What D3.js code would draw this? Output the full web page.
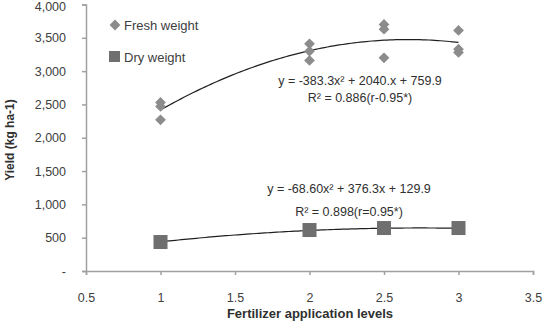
<!DOCTYPE html>
<html>
<head>
<meta charset="utf-8">
<script src="https://cdn.jsdelivr.net/npm/d3@7"></script>
<style>
body { margin: 0; background: #fff; }
text { font-family: "Liberation Sans", Arial, sans-serif; }
</style>
</head>
<body>
<svg></svg>
<script>
const width = 544;
const height = 327;
const svg = d3.select("svg").attr("width", width).attr("height", height);

// data
const levels = [1, 2, 2.5, 3];
const freshWeight = [
	[2530, 2470, 2270],
	[3410, 3300, 3160],
	[3700, 3630, 3200],
	[3610, 3330, 3280]
];
const dryWeight = [435, 615, 645, 645];
const freshCoef = [-383.3, 2040, 759.9];
const dryCoef = [-68.60, 376.3, 129.9];
const xTicks = [0.5, 1, 1.5, 2, 2.5, 3, 3.5];
const yTicks = [0, 500, 1000, 1500, 2000, 2500, 3000, 3500, 4000];

const x = d3.scaleLinear().domain([0.5, 3.5]).range([86, 533]);
const y = d3.scaleLinear().domain([0, 4000]).range([271, 4.5]);

const axisColor = "#a0a0a0";
const textColor = "#404040";

// axes
let yAxis = svg.append("g")
	.attr("transform", "translate(86,0)")
	.call(d3.axisLeft(y).tickValues(yTicks).tickSize(4)
		.tickFormat(d => d === 0 ? "-" : d3.format(",")(d)));
let xAxis = svg.append("g")
	.attr("transform", "translate(0,271)")
	.call(d3.axisBottom(x).tickValues(xTicks).tickSize(4)
		.tickFormat(d => d));
[xAxis, yAxis].forEach(a => {
	a.select(".domain").attr("stroke", axisColor).attr("stroke-width", 1.5);
	a.selectAll(".tick line").attr("stroke", axisColor).attr("stroke-width", 1.5);
	a.selectAll(".tick text").attr("fill", textColor).style("font-size", "12.5px");
});
yAxis.selectAll(".tick text").attr("x", -20);
// top label would be clipped by the page edge
yAxis.selectAll(".tick text").filter(d => d === 4000).attr("dy", "0.32em").attr("y", 2);
xAxis.selectAll(".tick text").attr("y", 22);

// titles
svg.append("text")
	.attr("x", 310).attr("y", 318)
	.attr("text-anchor", "middle")
	.style("font-size", "13px").style("font-weight", "bold")
	.attr("fill", "#303030")
	.text("Fertilizer application levels");
svg.append("text")
	.attr("transform", "translate(14,140) rotate(-90)")
	.attr("text-anchor", "middle")
	.style("font-size", "12px").style("font-weight", "bold")
	.attr("fill", "#303030")
	.text("Yield (kg ha-1)");

// trend lines
function poly(c) {
	return d3.range(1, 3.001, 0.02).map(v => [v, c[0] * v * v + c[1] * v + c[2]]);
}
const line = d3.line().x(d => x(d[0])).y(d => y(d[1]));
[freshCoef, dryCoef].forEach(c => {
	svg.append("path")
		.attr("d", line(poly(c)))
		.attr("fill", "none")
		.attr("stroke", "#202020")
		.attr("stroke-width", 1.2);
});

// fresh weight points
const freshPts = [];
levels.forEach((l, i) => freshWeight[i].forEach(v => freshPts.push([l, v])));
const diamond = d3.symbol().type(d3.symbolSquare).size(58);
svg.append("g").selectAll("path")
	.data(freshPts)
	.join("path")
	.attr("d", diamond)
	.attr("transform", d => `translate(${x(d[0])},${y(d[1])}) rotate(45)`)
	.attr("fill", "#8c8c8c");

// dry weight points
svg.append("g").selectAll("rect")
	.data(levels.map((l, i) => [l, dryWeight[i]]))
	.join("rect")
	.attr("x", d => x(d[0]) - 7)
	.attr("y", d => y(d[1]) - 7)
	.attr("width", 14)
	.attr("height", 14)
	.attr("fill", "#6f6f6f");

// legend
svg.append("path")
	.attr("d", diamond)
	.attr("transform", "translate(115,25) rotate(45)")
	.attr("fill", "#8c8c8c");
svg.append("text").attr("x", 124).attr("y", 30)
	.style("font-size", "13px").attr("fill", textColor)
	.text("Fresh weight");
svg.append("rect")
	.attr("x", 109).attr("y", 51).attr("width", 11).attr("height", 11)
	.attr("fill", "#6f6f6f");
svg.append("text").attr("x", 124).attr("y", 62)
	.style("font-size", "13px").attr("fill", textColor)
	.text("Dry weight");

// equations
const eqs = [
	{ x: 360, y: 85, t: "y = -383.3x² + 2040.x + 759.9" },
	{ x: 360, y: 102, t: "R² = 0.886(r-0.95*)" },
	{ x: 349, y: 193, t: "y = -68.60x² + 376.3x + 129.9" },
	{ x: 349, y: 216, t: "R² = 0.898(r=0.95*)" }
];
svg.append("g").selectAll("text")
	.data(eqs)
	.join("text")
	.attr("x", d => d.x).attr("y", d => d.y)
	.attr("text-anchor", "middle")
	.style("font-size", "12.5px")
	.attr("fill", "#303030")
	.text(d => d.t);
</script>
</body>
</html>
